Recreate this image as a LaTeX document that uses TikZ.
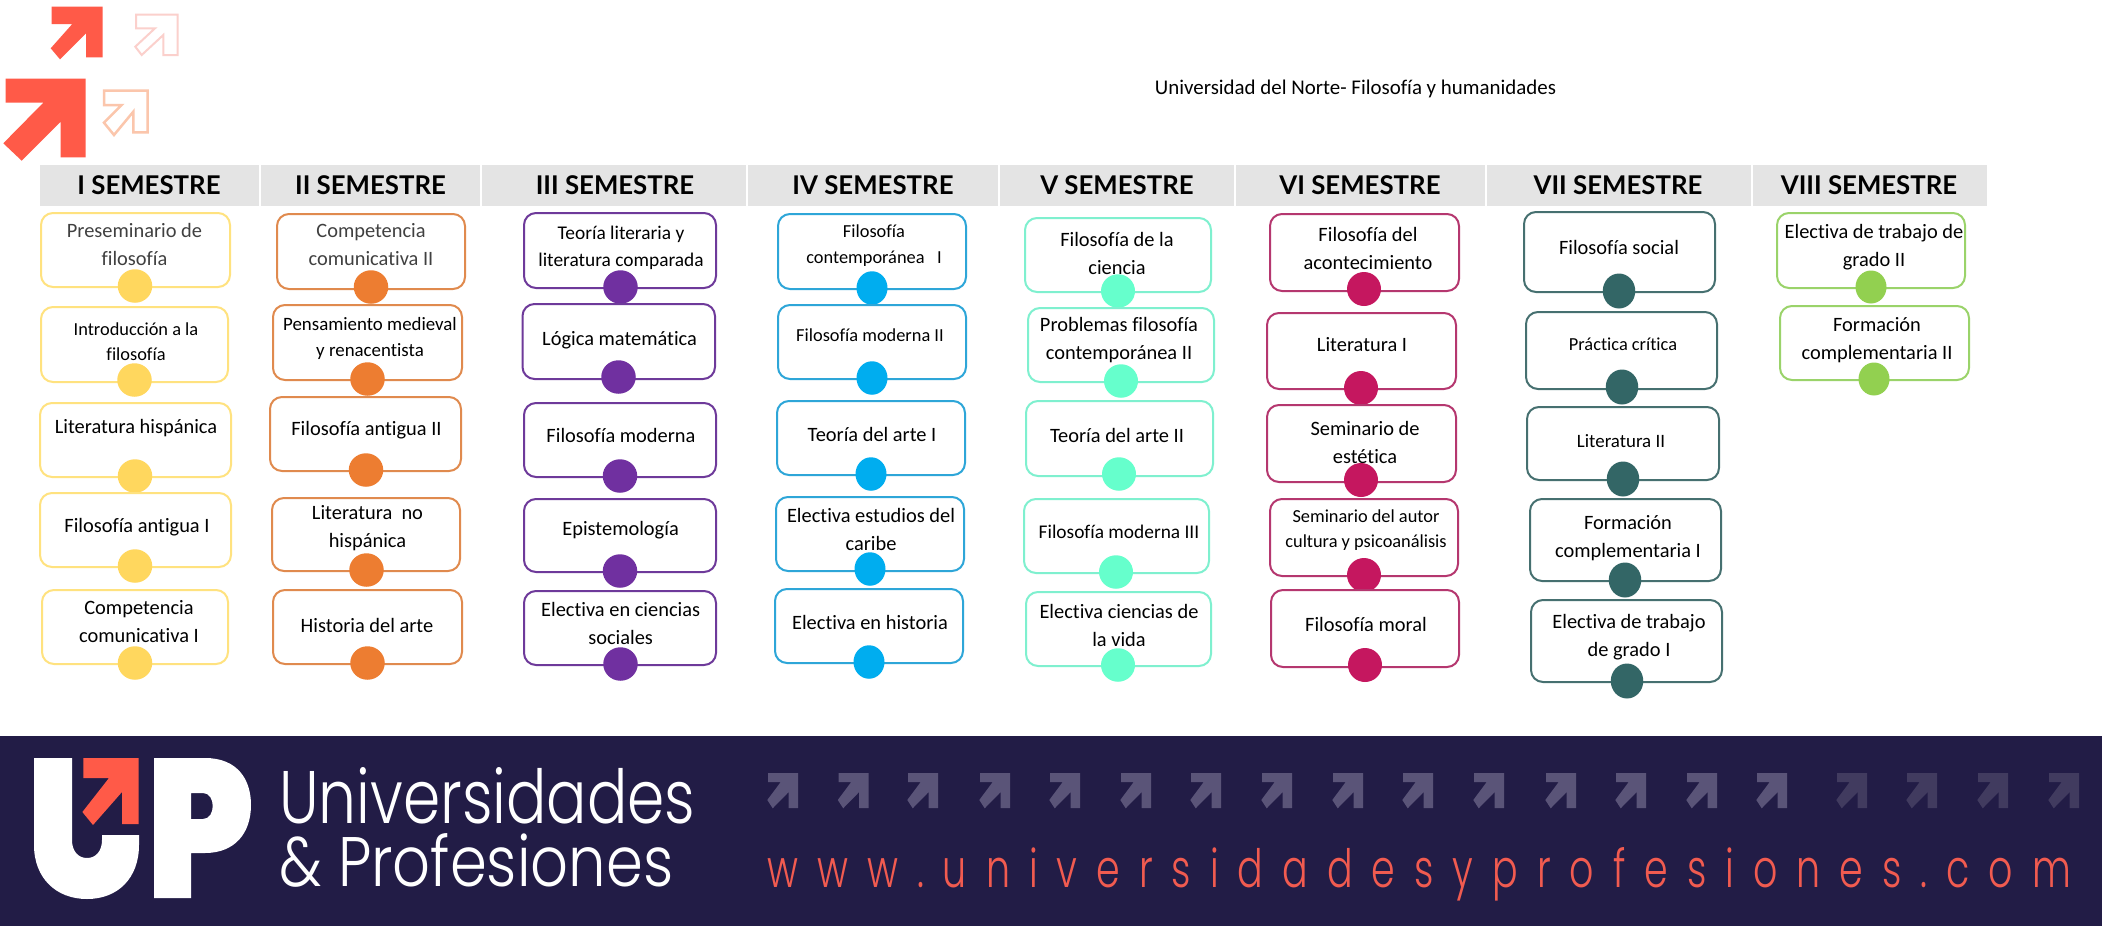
\documentclass[tikz,border=0pt]{standalone}
\usepackage{fontspec}
\usetikzlibrary{shapes.geometric}
\setmainfont{Carlito}[Ligatures=NoCommon,Scale=1.02]
\newfontfamily\headfont{Lato}[BoldFont={Lato Bold}]
\newfontfamily\logofont{Poppins Light}
\definecolor{bandc}{HTML}{221C46}
\definecolor{redc}{HTML}{FF5A48}
\definecolor{pinkc}{HTML}{FBD0CC}
\definecolor{peachc}{HTML}{FBC6AC}
\definecolor{hdrc}{HTML}{E4E4E4}
\definecolor{arra}{HTML}{5A5478}
\definecolor{arrb}{HTML}{413B5F}
\definecolor{urlc}{HTML}{F15B50}
\definecolor{softtext}{HTML}{404040}
\definecolor{ba}{HTML}{FFE27F}\definecolor{da}{HTML}{FFD75E}
\definecolor{bb}{HTML}{E08A4E}\definecolor{db}{HTML}{ED7D31}
\definecolor{bc}{HTML}{6E3A9A}\definecolor{dc}{HTML}{7030A0}
\definecolor{bd}{HTML}{2EA6D8}\definecolor{dd}{HTML}{00ADEF}
\definecolor{be}{HTML}{7FF0CF}\definecolor{de}{HTML}{66FFCC}
\definecolor{bf}{HTML}{B5376F}\definecolor{df}{HTML}{C5175F}
\definecolor{bg}{HTML}{467070}\definecolor{dg}{HTML}{336666}
\definecolor{bh}{HTML}{9AD36A}\definecolor{dh}{HTML}{92D050}
\tikzset{
 cellbox/.style={rectangle,rounded corners=12pt,line width=2pt,fill=white,inner sep=0pt},
 dotbase/.style={ellipse,inner sep=0pt,draw=none},
 dota/.style={dotbase,fill=da,minimum width=34.5pt,minimum height=33.5pt},
 dotb/.style={dotbase,fill=db,minimum width=34.5pt,minimum height=33.5pt},
 dotc/.style={dotbase,fill=dc,minimum width=34.5pt,minimum height=33.5pt},
 dotd/.style={dotbase,fill=dd,minimum width=31pt,minimum height=33.5pt},
 dote/.style={dotbase,fill=de,minimum width=34pt,minimum height=33.5pt},
 dotf/.style={dotbase,fill=df,minimum width=34pt,minimum height=34pt},
 dotg/.style={dotbase,fill=dg,minimum width=32.5pt,minimum height=35pt},
 doth/.style={dotbase,fill=dh,minimum width=31pt,minimum height=33pt},
 hdrcell/.style={rectangle,fill=hdrc,inner sep=0pt,minimum height=41pt},
 hdrtext/.style={inner sep=0pt,font=\headfont\bfseries\fontsize{25.8}{30}\selectfont},
}
% box: name, letter, x0, x1, y0, y1
\newcommand{\bx}[6]{\node[cellbox,draw=b#2,minimum width={(#4-#3)*1pt},minimum height={(#6-#5)*1pt}] (#1) at ({(#3+#4)/2},{(#5+#6)/2}) {};}
% text: name, x, y, size, leading, text
\newcommand{\tx}[6]{\node[inner sep=0pt,align=center,font=\fontsize{#4}{#5}\selectfont] (#1) at (#2,{#3-1}) {#6};}
% dot: name, letter, x, y
\newcommand{\dt}[4]{\node[dot#2] (#1) at (#3,#4) {};}
% header: name, x0, x1, textx, text
\newcommand{\hd}[5]{\node[hdrcell,minimum width={(#3-#2)*1pt}] (#1) at ({(#2+#3)/2},185.5) {};\node[hdrtext] (#1t) at (#4,185) {#5};}
\newcommand{\barr}[2]{\fill[#2,shift={(#1,773)}] (0,0)--(30,0)--(30,35)--(20.7,35)--(20.7,19)--(4.7,35.3)--(-0.7,27)--(12.7,9)--(0,9)--cycle;}
\begin{document}
\begin{tikzpicture}[x=1pt,y=-1pt]
\useasboundingbox (0,0) rectangle (2107,937);
\fill[white] (0,0) rectangle (2107,937);
% top arrows
\fill[redc] (51.7,6.7)--(102.7,6.7)--(102.7,57.3)--(86,57.3)--(86,33.3)--(60,59.3)--(50.7,48.3)--(72.3,24)--(51.7,24)--cycle;
\fill[redc] (5.7,78.7)--(85.7,78.7)--(85.7,157.3)--(60.7,157.3)--(60.7,121.7)--(21.7,160.7)--(3.3,143.3)--(43.3,102.7)--(5.7,102.7)--cycle;
\draw[pinkc,line width=2pt] (136,14.7)--(177.7,14.7)--(177.7,55)--(163.3,55)--(163.3,35)--(141.7,55)--(135.3,46.7)--(155,28.3)--(136,28.3)--cycle;
\draw[peachc,line width=2.5pt] (104,90.7)--(147.7,90.7)--(147.7,132.3)--(133.3,132.3)--(133.3,111.7)--(114,135)--(104,122.7)--(121.7,105)--(104,105)--cycle;
% title
\node[inner sep=0pt,font=\fontsize{20.5}{25}\selectfont] (title) at (1355.5,88.5) {Universidad del Norte- Filosofía y humanidades};
% headers
\hd{h1}{39.5}{259}{149}{I SEMESTRE}
\hd{h2}{261}{480}{370.5}{II SEMESTRE}
\hd{h3}{482}{746}{615}{III SEMESTRE}
\hd{h4}{748}{998}{873}{IV SEMESTRE}
\hd{h5}{1000}{1234}{1117}{V SEMESTRE}
\hd{h6}{1236}{1485}{1360}{VI SEMESTRE}
\hd{h7}{1486.5}{1751}{1618}{VII SEMESTRE}
\hd{h8}{1753}{1987}{1869}{VIII SEMESTRE}
% column 1
\bx{a1}{a}{41}{230}{213}{287}\tx{a1t}{134.5}{245.5}{20}{28}{\textcolor{softtext}{Preseminario de}\\\textcolor{softtext}{filosofía}}\dt{a1d}{a}{135}{286}
\bx{a2}{a}{41}{228}{307}{382}\tx{a2t}{136}{342.5}{18}{25}{Introducción a la\\filosofía}\dt{a2d}{a}{134.5}{380}
\bx{a3}{a}{40}{231}{403}{477}\tx{a3t}{136}{429}{20}{28}{Literatura hispánica}\dt{a3d}{a}{135}{476}
\bx{a4}{a}{40}{231}{493}{567}\tx{a4t}{137}{528}{20}{28}{Filosofía antigua I}\dt{a4d}{a}{135}{566}
\bx{a5}{a}{42}{228}{590}{664}\tx{a5t}{139}{623}{20}{28}{Competencia\\comunicativa I}\dt{a5d}{a}{135}{663}
% column 2
\bx{b1}{b}{277}{465}{214}{289}\tx{b1t}{371}{246}{20}{28}{\textcolor{softtext}{Competencia}\\\textcolor{softtext}{comunicativa II}}\dt{b1d}{b}{371}{287}
\bx{b2}{b}{273}{462}{305}{380}\tx{b2t}{370}{339}{18.5}{26}{Pensamiento medieval\\y renacentista}\dt{b2d}{b}{367.5}{379}
\bx{b3}{b}{270}{461}{397}{471}\tx{b3t}{366.5}{431}{20}{28}{Filosofía antigua II}\dt{b3d}{b}{366}{470}
\bx{b4}{b}{272}{460}{498}{571}\tx{b4t}{367.5}{529}{20}{28}{Literatura \ no\\hispánica}\dt{b4d}{b}{366.5}{570}
\bx{b5}{b}{273}{462}{590}{664}\tx{b5t}{367}{626}{20}{28}{Historia del arte}\dt{b5d}{b}{367.5}{663}
% column 3
\bx{c1}{c}{524}{716}{213}{288}\tx{c1t}{621}{248.5}{19}{27}{Teoría literaria y\\literatura comparada}\dt{c1d}{c}{620.5}{287}
\bx{c2}{c}{522.5}{715}{304}{379}\tx{c2t}{619.6}{341}{20}{28}{Lógica matemática}\dt{c2d}{c}{618.5}{377}
\bx{c3}{c}{524}{716}{403}{477}\tx{c3t}{621}{436}{20}{28}{Filosofía moderna}\dt{c3d}{c}{620}{476}
\bx{c4}{c}{524}{716}{499}{572}\tx{c4t}{620.6}{531}{20}{28}{Epistemología}\dt{c4d}{c}{620}{571}
\bx{c5}{c}{524}{716}{591}{665}\tx{c5t}{620.6}{624}{20}{28}{Electiva en ciencias\\sociales}\dt{c5d}{c}{620.5}{664}
% column 4
\bx{d1}{d}{778}{966}{214}{289}\tx{d1t}{874}{247}{18}{26}{Filosofía\\contemporánea \ \ I}\dt{d1d}{d}{872}{288}
\bx{d2}{d}{778}{966}{305}{379}\tx{d2t}{870}{336}{18}{26}{Filosofía moderna II}\dt{d2d}{d}{872}{378}
\bx{d3}{d}{777}{965}{401}{475}\tx{d3t}{872}{435}{20}{28}{Teoría del arte I}\dt{d3d}{d}{871}{474}
\bx{d4}{d}{776}{964}{497}{571}\tx{d4t}{871}{530}{20}{28}{Electiva estudios del\\caribe}\dt{d4d}{d}{870}{569}
\bx{d5}{d}{775}{963}{589}{663}\tx{d5t}{870}{623}{20}{28}{Electiva en historia}\dt{d5d}{d}{869}{662}
% column 5
\bx{e1}{e}{1025}{1211}{218}{292}\tx{e1t}{1117}{254}{20}{28}{Filosofía de la\\ciencia}\dt{e1d}{e}{1118}{291}
\bx{e2}{e}{1028}{1214}{308}{382}\tx{e2t}{1119}{341}{20}{28}{Problemas filosofía\\contemporánea II}\dt{e2d}{e}{1121}{381}
\bx{e3}{e}{1026}{1213}{401}{476}\tx{e3t}{1117}{436}{20}{28}{Teoría del arte II}\dt{e3d}{e}{1119}{474}
\bx{e4}{e}{1024}{1209}{499}{573}\tx{e4t}{1119}{533}{19}{26}{Filosofía moderna III}\dt{e4d}{e}{1116}{572}
\bx{e5}{e}{1026}{1211}{592}{666}\tx{e5t}{1119}{626}{20}{28}{Electiva ciencias de\\la vida}\dt{e5d}{e}{1118}{665}
% column 6
\bx{f1}{f}{1270}{1459}{214}{291}\tx{f1t}{1368}{249}{20}{28}{Filosofía del\\acontecimiento}\dt{f1d}{f}{1364}{289}
\bx{f2}{f}{1267}{1456}{313}{389}\tx{f2t}{1362}{346}{20}{28}{Literatura I}\dt{f2d}{f}{1361}{388}
\bx{f3}{f}{1267}{1456}{405}{482}\tx{f3t}{1365}{443}{20}{28}{Seminario de\\estética}\dt{f3d}{f}{1361}{480}
\bx{f4}{f}{1270}{1458}{499}{576}\tx{f4t}{1366}{531.5}{18}{25}{Seminario del autor\\cultura y psicoanálisis}\dt{f4d}{f}{1364}{575}
\bx{f5}{f}{1271}{1459}{590}{667}\tx{f5t}{1366}{625}{20}{28}{Filosofía moral}\dt{f5d}{f}{1365}{665}
% column 7
\bx{g1}{g}{1524}{1715}{212}{292}\tx{g1t}{1619}{248}{20}{28}{Filosofía social}\dt{g1d}{g}{1619}{291}
\bx{g2}{g}{1526}{1717}{312}{389}\tx{g2t}{1623}{345}{18}{25}{Práctica crítica}\dt{g2d}{g}{1622}{387}
\bx{g3}{g}{1527}{1719}{407}{480}\tx{g3t}{1621}{442}{18.5}{25}{Literatura II}\dt{g3d}{g}{1623}{479}
\bx{g4}{g}{1530}{1721}{499}{581}\tx{g4t}{1628}{539}{20}{28}{Formación\\complementaria I}\dt{g4d}{g}{1625}{580}
\bx{g5}{g}{1531}{1722}{600}{682}\tx{g5t}{1629}{638}{20}{28}{Electiva de trabajo\\de grado I}\dt{g5d}{g}{1627}{681}
% column 8
\bx{h1b}{h}{1777}{1965}{213}{288}\tx{h1bt}{1874}{248}{20}{28}{Electiva de trabajo de\\grado II}\dt{h1d}{h}{1871}{287}
\bx{h2b}{h}{1780}{1969}{306}{380}\tx{h2bt}{1877}{341}{20}{28}{Formación\\complementaria II}\dt{h2d}{h}{1874}{379}
% band
\fill[bandc] (0,736) rectangle (2102,925.7);
% logo
\fill[white] (34,758)--(72,758)--(72,840) .. controls (72,851) and (78,858) .. (87,858) .. controls (96,858) and (102,851) .. (102,840)--(102,835)--(139,835)--(139,845) .. controls (139,878) and (118,899) .. (87,899) .. controls (56,899) and (34,878) .. (34,845)--cycle;
\fill[white,even odd rule] (154,758)--(205,758) .. controls (238,758) and (251,780) .. (251,805) .. controls (251,833) and (235,853) .. (205,853)--(191,853)--(191,898)--(154,898)--cycle (191,793)--(203,793) .. controls (216,793) and (216,819) .. (203,819)--(191,819)--cycle;
\fill[redc] (83.4,758)--(138.6,758)--(138.6,824)--(122,824)--(122,792)--(93,825)--(82.4,812)--(109,778)--(83.4,778)--cycle;
\node[inner sep=0pt,anchor=base west,text=white] (uni) at (279,823) {\resizebox{416pt}{56pt}{\logofont Universidades}};
\node[inner sep=0pt,anchor=base west,text=white] (pro) at (279,886) {\resizebox{394pt}{53pt}{\logofont \& Profesiones}};
\barr{768}{arra}\barr{838.5}{arra}\barr{908}{arra}\barr{980}{arra}\barr{1050}{arra}\barr{1121}{arra}\barr{1191}{arra}\barr{1262}{arra}\barr{1333}{arra}\barr{1403}{arra}\barr{1474}{arra}\barr{1546}{arra}\barr{1616}{arra}\barr{1687}{arra}\barr{1757}{arra}\barr{1837}{arrb}\barr{1907}{arrb}\barr{1978}{arrb}\barr{2049}{arrb}
\node[inner sep=0pt,anchor=base west,text=urlc] (url) at (767,887) {\resizebox{1304pt}{40pt}{\logofont\addfontfeature{LetterSpace=50}\fontsize{30}{36}\selectfont www.universidadesyprofesiones.com}};
\end{tikzpicture}
\end{document}
